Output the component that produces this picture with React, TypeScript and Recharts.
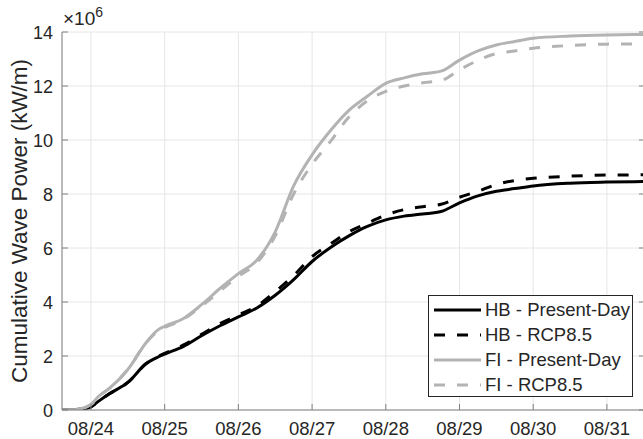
import { LineChart, Line, XAxis, YAxis, CartesianGrid, Legend, Label } from "recharts";

// days since 08/24 00:00
const days = [
  -0.393, -0.2, 0, 0.1, 0.25, 0.5, 0.75, 0.9, 1.0, 1.25, 1.5, 1.75, 2.0, 2.25, 2.5,
  2.75, 3.0, 3.25, 3.5, 3.75, 4.0, 4.25, 4.5, 4.75, 5.0, 5.25, 5.5, 5.75, 6.0, 6.5,
  7.0, 7.517,
];

// cumulative wave power, x10^6 kW/m
const hbPresent = [
  0, 0.02, 0.12, 0.32, 0.6, 1.02, 1.72, 1.95, 2.07, 2.35, 2.75, 3.12, 3.45, 3.78, 4.25,
  4.83, 5.5, 6.02, 6.45, 6.8, 7.04, 7.18, 7.26, 7.35, 7.67, 7.93, 8.1, 8.2, 8.3, 8.4,
  8.44, 8.46,
];
const hbRcp = [
  0, 0.02, 0.12, 0.32, 0.6, 1.02, 1.72, 1.97, 2.1, 2.4, 2.8, 3.2, 3.52, 3.85, 4.38,
  4.98, 5.68, 6.15, 6.6, 6.92, 7.22, 7.42, 7.53, 7.62, 7.88, 8.1, 8.35, 8.5, 8.58, 8.66,
  8.7, 8.71,
];
const fiPresent = [
  0, 0.02, 0.2, 0.5, 0.8, 1.5, 2.5, 2.95, 3.1, 3.38, 3.9, 4.5, 5.05, 5.55, 6.6,
  8.3, 9.45, 10.35, 11.1, 11.62, 12.1, 12.3, 12.45, 12.55, 12.96, 13.3, 13.52, 13.65, 13.77, 13.85,
  13.89, 13.91,
];
const fiRcp = [
  0, 0.02, 0.2, 0.5, 0.8, 1.5, 2.5, 2.9, 3.05, 3.35, 3.85, 4.4, 4.95, 5.45, 6.45,
  8.0, 9.1, 9.95, 10.85, 11.45, 11.8, 12.0, 12.12, 12.2, 12.6, 12.95, 13.2, 13.3, 13.4, 13.5,
  13.55, 13.56,
];

const dayTicks = [0, 1, 2, 3, 4, 5, 6, 7];
const dayLabels = ["08/24", "08/25", "08/26", "08/27", "08/28", "08/29", "08/30", "08/31"];
const powerTicks = [0, 2, 4, 6, 8, 10, 12, 14];

const series = [
  { key: "hbPresent", name: "HB - Present-Day", color: "#000000", dash: undefined },
  { key: "hbRcp", name: "HB - RCP8.5", color: "#000000", dash: "11 12" },
  { key: "fiPresent", name: "FI - Present-Day", color: "#b3b3b3", dash: undefined },
  { key: "fiRcp", name: "FI - RCP8.5", color: "#b3b3b3", dash: "11 12" },
];

const chartData = days.map((d, i) => ({
  day: d,
  hbPresent: hbPresent[i],
  hbRcp: hbRcp[i],
  fiPresent: fiPresent[i],
  fiRcp: fiRcp[i],
}));

const AXIS = "#808080";
const TEXT = "#262626";
const FONT = '"Liberation Sans", Arial, Helvetica, sans-serif';

const BottomTick = (props: any) => {
  const { x, y, payload } = props;
  return (
    <g>
      <line x1={x} x2={x} y1={y} y2={y - 6} stroke={AXIS} />
      <text x={x} y={y + 25} textAnchor="middle" fill={TEXT} fontSize={18.5} fontFamily={FONT}>
        {dayLabels[payload.value]}
      </text>
    </g>
  );
};

const TopTick = (props: any) => {
  const { x, y } = props;
  return <line x1={x} x2={x} y1={y} y2={y + 6} stroke={AXIS} />;
};

const LeftTick = (props: any) => {
  const { x, y, payload } = props;
  return (
    <g>
      <line x1={x} x2={x + 6} y1={y} y2={y} stroke={AXIS} />
      <text x={x - 9} y={y + 6.5} textAnchor="end" fill={TEXT} fontSize={18} fontFamily={FONT}>
        {payload.value}
      </text>
    </g>
  );
};

const RightTick = (props: any) => {
  const { x, y } = props;
  return <line x1={x} x2={x - 6} y1={y} y2={y} stroke={AXIS} />;
};

const AxisTitles = (props: any) => {
  const vb = props.viewBox;
  const cy = vb.y + vb.height / 2;
  return (
    <g fontFamily={FONT} fill={TEXT}>
      <text transform={`translate(27,${cy}) rotate(-90)`} textAnchor="middle" fontSize={22.5}>
        Cumulative Wave Power (kW/m)
      </text>
      <text x={63} y={25} fontSize={19}>
        ×10
        <tspan dy={-8} fontSize={14}>
          6
        </tspan>
      </text>
    </g>
  );
};

const renderLegend = () => (
  <div
    style={{
      width: 205,
      height: 102,
      boxSizing: "border-box",
      border: "1px solid #262626",
      background: "#fff",
      paddingTop: 1,
    }}
  >
    {series.map((s) => (
      <div key={s.key} style={{ display: "flex", alignItems: "center", height: 25 }}>
        <svg width={55} height={10}>
          <line
            x1={5}
            x2={52}
            y1={5}
            y2={5}
            stroke={s.color}
            strokeWidth={3}
            strokeDasharray={s.dash}
          />
        </svg>
        <span
          style={{ fontSize: 18.5, fontFamily: FONT, color: TEXT, marginLeft: 1, whiteSpace: "nowrap" }}
        >
          {s.name}
        </span>
      </div>
    ))}
  </div>
);

const App = () => {
  return (
    <div
      style={{
        position: "absolute",
        left: 0,
        top: 0,
        width: 643,
        height: 439,
        overflow: "hidden",
        background: "#fff",
      }}
    >
      <LineChart
        width={660}
        height={439}
        data={chartData}
        margin={{ top: 32, right: 0, bottom: 0, left: 0 }}
      >
        <CartesianGrid stroke="#e6e6e6" />
        <XAxis
          dataKey="day"
          type="number"
          domain={[-0.393, 7.517]}
          ticks={dayTicks}
          allowDataOverflow
          height={29}
          tickSize={0}
          tickMargin={0}
          tick={<BottomTick />}
          stroke={AXIS}
        />
        <XAxis
          xAxisId="top"
          orientation="top"
          dataKey="day"
          type="number"
          domain={[-0.393, 7.517]}
          ticks={dayTicks}
          allowDataOverflow
          height={0}
          tickSize={0}
          tickMargin={0}
          tick={<TopTick />}
          stroke={AXIS}
        />
        <YAxis
          type="number"
          domain={[0, 14]}
          ticks={powerTicks}
          allowDataOverflow
          width={62}
          tickSize={0}
          tickMargin={0}
          tick={<LeftTick />}
          stroke={AXIS}
        >
          <Label content={<AxisTitles />} />
        </YAxis>
        <YAxis
          yAxisId="right"
          orientation="right"
          type="number"
          domain={[0, 14]}
          ticks={powerTicks}
          allowDataOverflow
          width={15}
          tickSize={0}
          tickMargin={0}
          tick={<RightTick />}
          stroke={AXIS}
        />
        <Legend
          layout="vertical"
          align="center"
          verticalAlign="middle"
          content={renderLegend}
          wrapperStyle={{ left: 428, top: 295, width: 205, height: 102 }}
        />
        {series.map((s) => (
          <Line
            key={s.key}
            type="monotone"
            dataKey={s.key}
            name={s.name}
            stroke={s.color}
            strokeWidth={3}
            strokeDasharray={s.dash}
            dot={false}
            activeDot={false}
            isAnimationActive={false}
          />
        ))}
      </LineChart>
    </div>
  );
};

export default App;
